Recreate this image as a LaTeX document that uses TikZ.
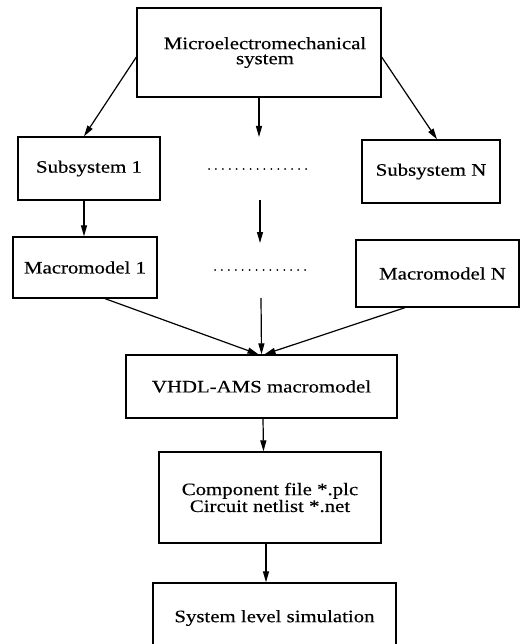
\documentclass[tikz,border=0pt]{standalone}
\usepackage{fontspec}
\setmainfont{Liberation Serif}[FakeStretch=1.19,FakeBold=0.4]
\usetikzlibrary{arrows.meta,calc}
\begin{document}
\begin{tikzpicture}[x=1pt,y=-1pt,
  box/.style={draw, line width=1.3pt, rectangle, inner sep=0pt, align=center,
    font=\fontsize{17.5}{15}\selectfont},
  flow/.style={line width=1.2pt, -{Triangle[length=11pt,width=6pt]}},
  dotrow/.style={line width=2pt, line cap=round, dash pattern=on 0pt off 6.93pt}]
\useasboundingbox (0,0) rectangle (524,644);
\clip (0,0) rectangle (524,644);

% boxes
\node[box, minimum width=244pt, minimum height=89pt] (mems) at (259,52.5) {\hspace*{12pt}Microelectromechanical\\\hspace*{12pt}system};
\node[box, minimum width=142pt, minimum height=63pt] (sub1) at (89,168.5) {Subsystem 1};
\node[box, minimum width=138pt, minimum height=63pt] (subN) at (431,171.5) {Subsystem N};
\node[box, minimum width=144pt, minimum height=61pt] (mac1) at (85,267.5) {Macromodel 1};
\node[box, minimum width=163pt, minimum height=67pt] (macN) at (437.5,273.5) {\hspace*{10pt}Macromodel N};
\node[box, minimum width=271pt, minimum height=63pt] (vhdl) at (261.5,386.5) {VHDL-AMS macromodel};
\node[box, minimum width=222pt, minimum height=91pt] (comp) at (270,497.5) {Component file *.plc\\Circuit netlist *.net};
\node[box, minimum width=243pt, minimum height=70pt] (sim) at (274.5,618) {System level simulation};

% placeholder rows between the first and the N-th branch
\draw[dotrow] (209,169) -- (306.1,169);
\draw[dotrow] (215,270) -- (306,270);

% free ends of the middle branch
\coordinate (m1a) at (259,137);
\coordinate (m2s) at (260,200);
\coordinate (m2e) at (260,243);
\coordinate (m3s) at (261,298);

% connectors
\draw[flow] ($(mems.west)+(0,4.5)$) -- ($(sub1.north)+(-5,0)$);
\draw[flow] ($(mems.east)+(0,4.5)$) -- ($(subN.north)+(6,0)$);
\draw[flow] (mems.south) -- (m1a);
\draw[flow] ($(sub1.south)+(-5,0)$) -- ($(mac1.north)+(-1,0)$);
\draw[flow] (m2s) -- (m2e);
\draw[flow] (m3s) -- (vhdl.north);
\draw[flow] ($(mac1.south)+(20,0)$) -- ($(vhdl.north)+(-3,0)$);
\draw[flow] ($(macN.south)+(-32.5,0)$) -- ($(vhdl.north)+(3,0)$);
\draw[flow] ($(vhdl.south)+(1.5,0)$) -- ($(comp.north)+(-6.5,0)$);
\draw[flow] ($(comp.south)+(-4,0)$) -- ($(sim.north)+(-8.5,0)$);
\end{tikzpicture}
\end{document}
